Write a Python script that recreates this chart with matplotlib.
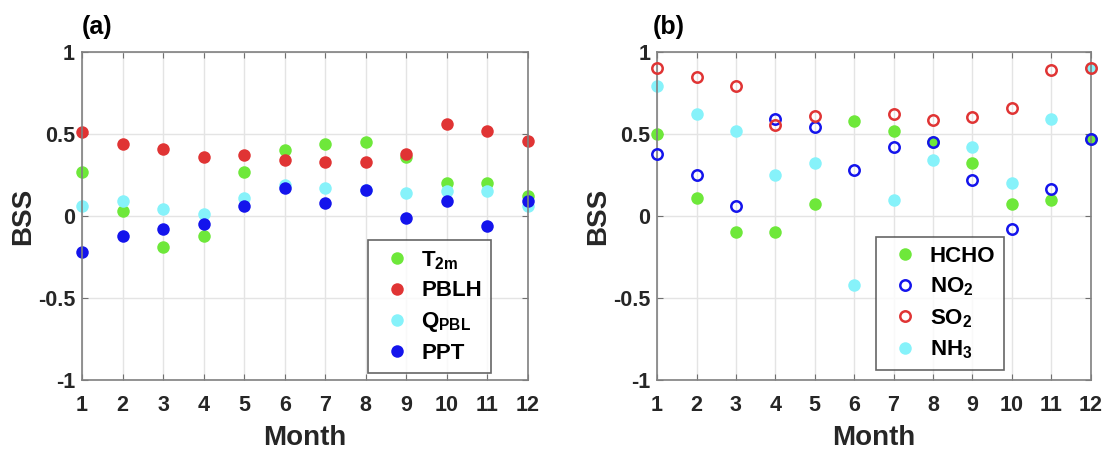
import numpy as np
import matplotlib
matplotlib.use('Agg')
import matplotlib.pyplot as plt

plt.rcParams['font.family'] = ['Liberation Sans', 'DejaVu Sans']
plt.rcParams['font.weight'] = 'bold'
plt.rcParams['mathtext.fontset'] = 'custom'
plt.rcParams['mathtext.bf'] = 'Liberation Sans:bold'
plt.rcParams['mathtext.rm'] = 'Liberation Sans:bold'

months = np.arange(1, 13)

# panel (a): meteorological variables
t2m = [0.27, 0.03, -0.19, -0.12, 0.27, 0.40, 0.44, 0.45, 0.36, 0.20, 0.20, 0.12]
pblh = [0.51, 0.44, 0.41, 0.36, 0.37, 0.34, 0.33, 0.33, 0.38, 0.56, 0.52, 0.46]
qpbl = [0.06, 0.09, 0.04, 0.01, 0.11, 0.19, 0.17, 0.16, 0.14, 0.15, 0.15, 0.06]
ppt = [-0.22, -0.12, -0.08, -0.05, 0.06, 0.17, 0.08, 0.16, -0.01, 0.09, -0.06, 0.09]

# panel (b): trace gases
hcho = [0.50, 0.11, -0.10, -0.10, 0.07, 0.58, 0.52, 0.45, 0.32, 0.07, 0.10, 0.47]
no2 = [0.38, 0.25, 0.06, 0.59, 0.54, 0.28, 0.42, 0.45, 0.22, -0.08, 0.165, 0.47]
so2 = [0.90, 0.85, 0.79, 0.555, 0.61, np.nan, 0.62, 0.585, 0.605, 0.66, 0.89, 0.90]
nh3 = [0.79, 0.62, 0.52, 0.25, 0.325, -0.42, 0.10, 0.34, 0.42, 0.20, 0.59, 0.90]

GREEN = '#6ee83a'
RED = '#e03434'
CYAN = '#86f2fa'
BLUE = '#1414ec'

fig = plt.figure(figsize=(11.09, 4.5), dpi=100)
ax1 = fig.add_axes([0.074, 0.1556, 0.402, 0.7289])
ax2 = fig.add_axes([0.5925, 0.1556, 0.391, 0.7289])


def style_axes(ax):
    ax.set_xlim(1, 12)
    ax.set_ylim(-1, 1)
    ax.set_xticks(months)
    ax.set_yticks([-1, -0.5, 0, 0.5, 1])
    ax.set_yticklabels(['-1', '-0.5', '0', '0.5', '1'])
    ax.grid(True, color='#e4e4e4', linewidth=1)
    ax.set_axisbelow(True)
    ax.tick_params(direction='in', top=True, right=True, length=4,
                   color='#707070', labelsize=15.5, labelcolor='#262626', pad=5)
    ax.tick_params(axis='x', pad=11)
    for lab in ax.get_xticklabels() + ax.get_yticklabels():
        lab.set_fontweight('bold')
    for sp in ax.spines.values():
        sp.set_color('#808080')
        sp.set_linewidth(1.2)
    ax.set_xlabel('Month', fontsize=20, fontweight='bold', color='#262626', labelpad=6)
    ax.set_ylabel('BSS', fontsize=20, fontweight='bold', color='#262626', labelpad=1)


leg_kw = dict(frameon=True, fancybox=False, edgecolor='#404040',
              handletextpad=0.2, labelspacing=0.4, borderpad=0.4,
              handlelength=1.8, borderaxespad=0, prop={'weight': 'bold', 'size': 16})

ms = 9
ax1.plot(months, t2m, 'o', color=GREEN, ms=ms, mec='none', clip_on=False, label=r'$\mathbf{T_{2m}}$')
ax1.plot(months, pblh, 'o', color=RED, ms=ms, mec='none', clip_on=False, label='PBLH')
ax1.plot(months, qpbl, 'o', color=CYAN, ms=ms, mec='none', clip_on=False, label=r'$\mathbf{Q_{PBL}}$')
ax1.plot(months, ppt, 'o', color=BLUE, ms=ms, mec='none', clip_on=False, label='PPT')
style_axes(ax1)
leg1 = ax1.legend(loc='lower right', bbox_to_anchor=(0.917, 0.021), **leg_kw)
leg1.get_frame().set_linewidth(1.2)

ax2.plot(months, nh3, 'o', color=CYAN, ms=ms, mec='none', clip_on=False, zorder=2)
ax2.plot(months, hcho, 'o', color=GREEN, ms=ms, mec='none', clip_on=False, zorder=2)
ax2.plot(months, no2, 'o', mfc='none', mec=BLUE, mew=1.8, ms=7.5, clip_on=False, zorder=3)
ax2.plot(months, so2, 'o', mfc='none', mec=RED, mew=1.8, ms=7.5, clip_on=False, zorder=3)
# legend handles in the original order
h1, = ax2.plot([], [], 'o', color=GREEN, ms=ms, mec='none', label='HCHO')
h2, = ax2.plot([], [], 'o', mfc='none', mec=BLUE, mew=1.8, ms=7.5, label=r'$\mathbf{NO_2}$')
h3, = ax2.plot([], [], 'o', mfc='none', mec=RED, mew=1.8, ms=7.5, label=r'$\mathbf{SO_2}$')
h4, = ax2.plot([], [], 'o', color=CYAN, ms=ms, mec='none', label=r'$\mathbf{NH_3}$')
style_axes(ax2)
leg2 = ax2.legend(handles=[h1, h2, h3, h4], loc='lower left', bbox_to_anchor=(0.506, 0.03), **leg_kw)
leg2.get_frame().set_linewidth(1.2)

fig.text(0.074, 0.94, '(a)', fontsize=18, fontweight='bold', va='center')
fig.text(0.589, 0.94, '(b)', fontsize=18, fontweight='bold', va='center')

fig.savefig('out.png', dpi=100)
